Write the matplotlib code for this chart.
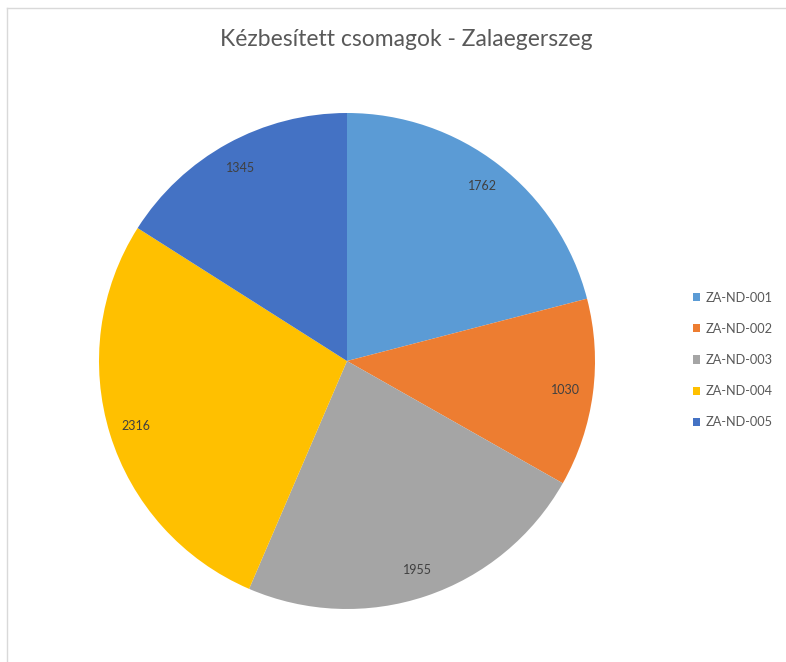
import matplotlib.pyplot as plt

# data
labels = ["ZA-ND-001", "ZA-ND-002", "ZA-ND-003", "ZA-ND-004", "ZA-ND-005"]
values = [1762, 1030, 1955, 2316, 1345]
colors = ["#5B9BD5", "#ED7D31", "#A5A5A5", "#FFC000", "#4472C4"]

plt.rcParams['font.family'] = ['Lato', 'DejaVu Sans']

fig = plt.figure(figsize=(7.86, 6.62), dpi=100)

# chart area border (only top and left visible)
fig.add_artist(plt.Line2D([7/786, 1], [1 - 8/662, 1 - 8/662], color="#d9d9d9", lw=1))
fig.add_artist(plt.Line2D([7/786, 7/786], [0, 1 - 8/662], color="#d9d9d9", lw=1))

ax = fig.add_axes([99/786, 53/662, 496/786, 496/662])
wedges, texts = ax.pie(values, colors=colors, startangle=90, counterclock=False,
                       labels=[str(v) for v in values], labeldistance=0.89,
                       textprops=dict(fontsize=9, color="#404040", ha="center", va="center"))
for t in texts:
    t.set_horizontalalignment("center")
ax.set_xlim(-1, 1)
ax.set_ylim(-1, 1)
ax.set_aspect("equal")
ax.axis("off")

fig.text(406/786, 1 - 40/662, "Kézbesített csomagok - Zalaegerszeg",
         ha="center", va="center", fontsize=16.5, color="#595959")

fig.legend(wedges, labels, loc="center left", bbox_to_anchor=(681/786, 1 - 360/662),
           frameon=False, fontsize=9.2, handlelength=0.6, handleheight=0.6,
           handletextpad=0.45, labelspacing=1.5, labelcolor="#595959")

fig.savefig("out.png", dpi=100)
